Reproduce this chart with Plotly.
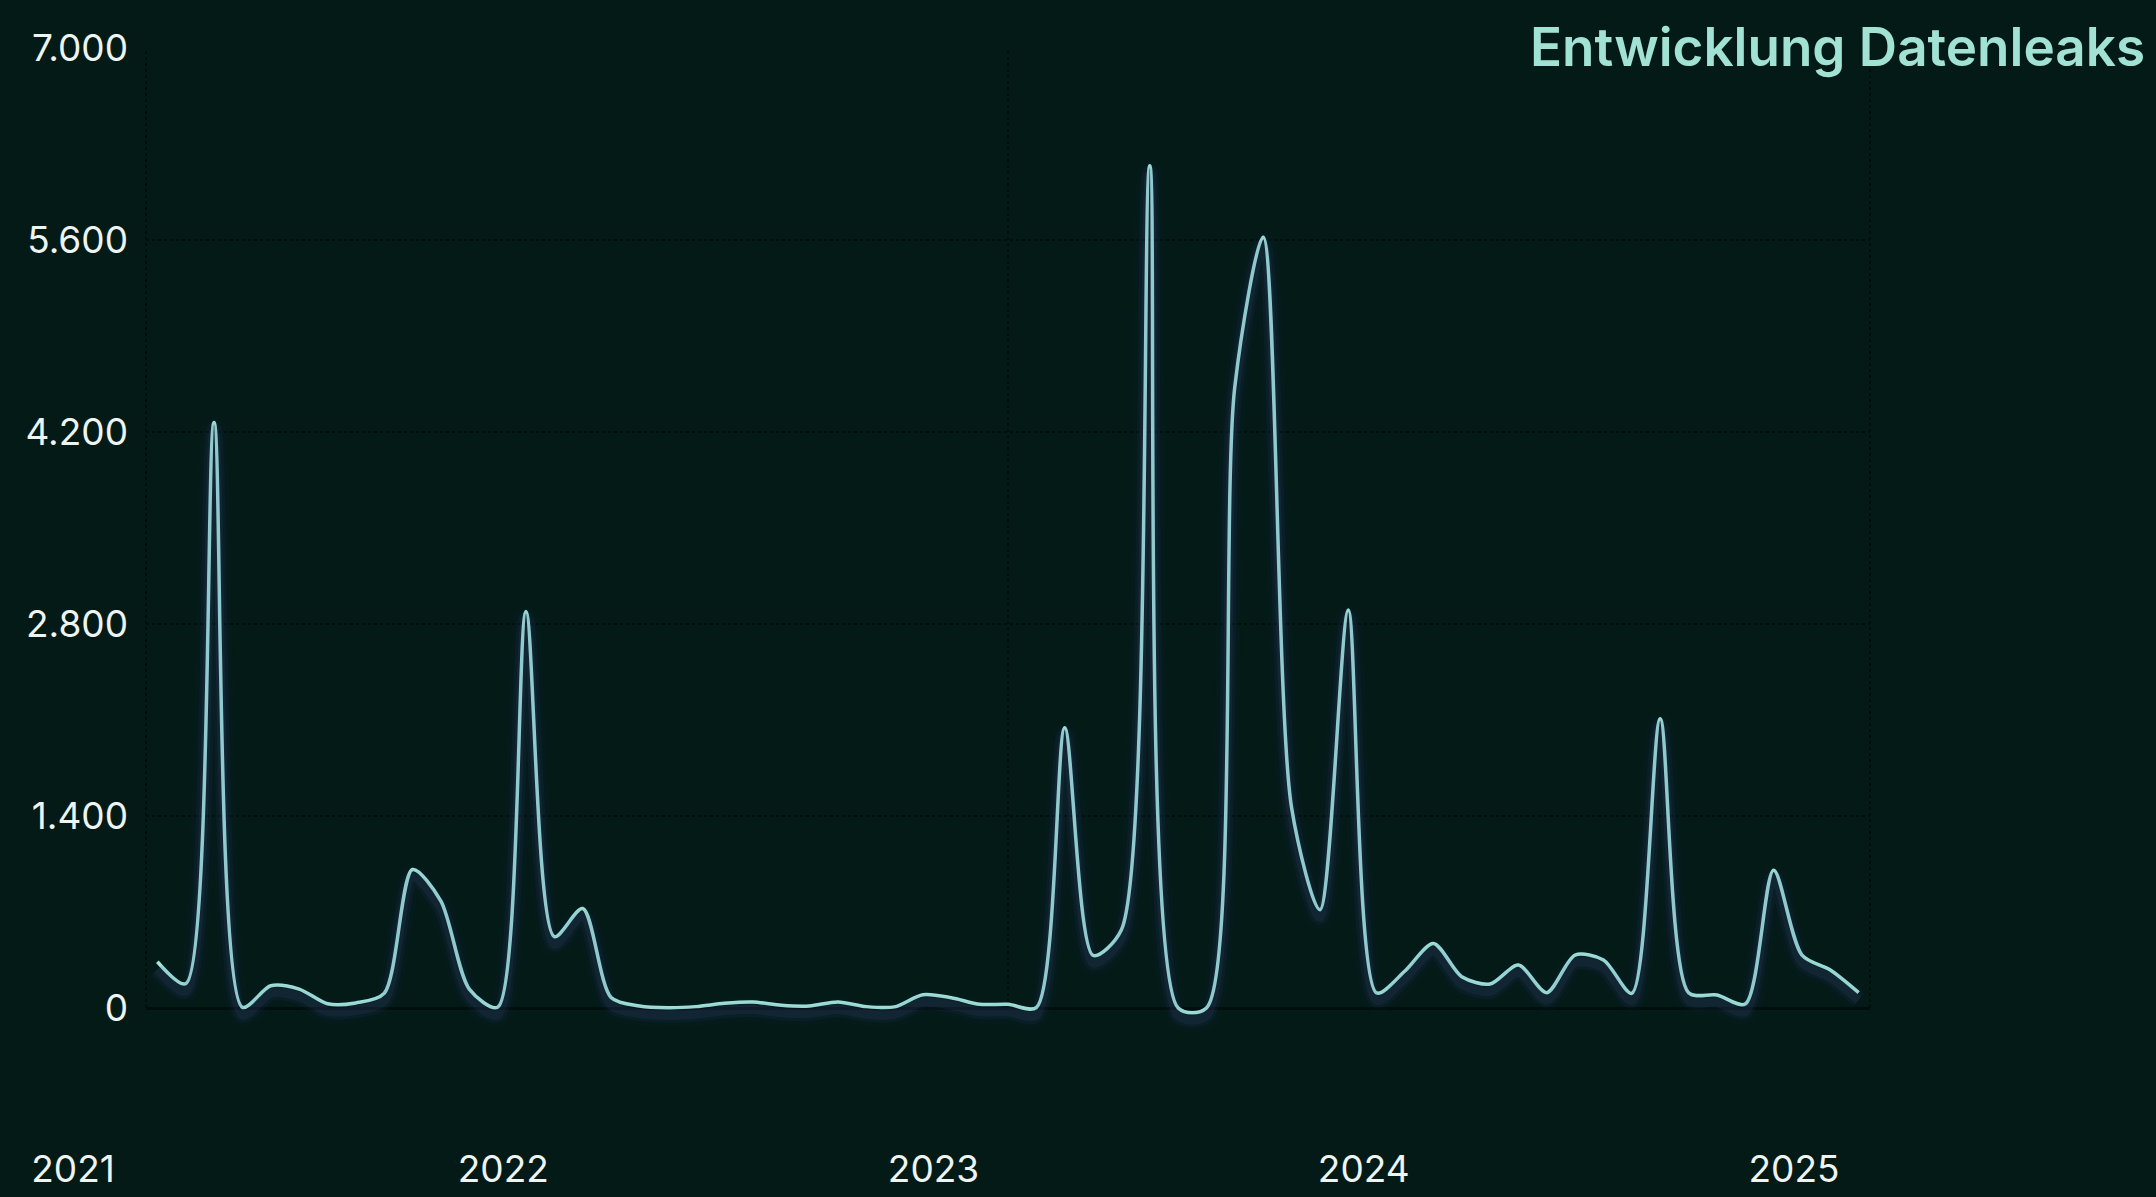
import plotly.graph_objects as go

# ---- data ----
point_index = list(range(61))
leaks = [337, 177, 4269, 5, 162, 138, 31, 37, 107, 1010,
         780, 138, 5, 2892, 520, 725, 77, 15, 2, 10,
         34, 44, 20, 15, 44, 10, 8, 97, 75, 27,
         27, 3, 2043, 384, 570, 6141, 0, 0, 4532, 5620,
         1462, 716, 2902, 110, 270, 471, 228, 175, 313, 112,
         386, 350, 107, 2110, 112, 95, 29, 1005, 386, 277, 112]
year_labels = ["2021", "2022", "2023", "2024", "2025"]
year_values = [2021, 2022, 2023, 2024, 2025]
y_ticks = [0, 1400, 2800, 4200, 5600, 7000]
title_text = "Entwicklung Datenleaks"

# ---- style ----
W, H = 2156, 1197
BG = "#031a16"
LINE = "#a2e7d9"
TITLE = "#a2e2d5"
TICK = "#eef4f2"
GRID = "#010f0c"
FONT = "Inter"
SMOOTH = 0.8

y_range = [-1050, 7000]
x_range = [-0.4, 60.4]
glow_shift = 55  # value units, pushes the glow slightly downward

M_T, M_B = 48, 45
year_axis_raise_px = 9

fig = go.Figure()

# glow layers (drawn on a slightly shifted overlay axis)
for w, c in [(24, "rgba(70,80,160,0.04)"), (15, "rgba(75,88,170,0.07)"), (9, "rgba(85,100,180,0.10)")]:
    fig.add_trace(go.Scatter(
        x=point_index, y=leaks, mode="lines", xaxis="x", yaxis="y2",
        line=dict(color=c, width=w, shape="spline", smoothing=SMOOTH),
        hoverinfo="skip", showlegend=False))

fig.add_trace(go.Scatter(
    x=point_index, y=leaks, mode="lines", xaxis="x", yaxis="y",
    line=dict(color=LINE, width=3.5, shape="spline", smoothing=SMOOTH),
    hoverinfo="skip", showlegend=False))

# invisible carrier for the year-label axis
fig.add_trace(go.Scatter(
    x=year_values, y=[None] * len(year_values), xaxis="x2", yaxis="y3",
    mode="markers", marker=dict(opacity=0), hoverinfo="skip", showlegend=False))

left_px, right_px = 146, 1870
year0_px, year_step_px = 73, 430.25

fig.update_layout(
    width=W, height=H,
    margin=dict(l=0, r=0, t=M_T, b=M_B, autoexpand=False),
    paper_bgcolor=BG, plot_bgcolor="rgba(0,0,0,0)",
    separators=",.",
    font=dict(family=FONT, color=TICK),
    title=dict(text=title_text, x=2145 / W, xanchor="right", xref="container",
               y=1 - 47 / H, yanchor="middle", yref="container",
               font=dict(family=FONT, size=53, color=TITLE, weight=600)),
    xaxis=dict(domain=[left_px / W, right_px / W], range=x_range, anchor="y",
               showgrid=False, zeroline=False, showticklabels=False,
               showline=False, ticks="", fixedrange=True, automargin=False),
    xaxis2=dict(domain=[0, 1], anchor="y3", side="bottom",
                range=[year_values[0] - year0_px / year_step_px,
                       year_values[0] + (W - year0_px) / year_step_px],
                tickvals=year_values, ticktext=year_labels,
                tickfont=dict(family=FONT, size=37, color=TICK),
                showgrid=False, zeroline=False, showline=False, ticks="",
                ticklabelstandoff=1, fixedrange=True, automargin=False),
    yaxis=dict(range=y_range, tickvals=y_ticks, tickformat=",d", anchor="x",
               tickfont=dict(family=FONT, size=37, color=TICK),
               showgrid=True, gridcolor=GRID, griddash="dot", gridwidth=2,
               zeroline=True, zerolinecolor="#010d0a", zerolinewidth=3,
               showline=False, ticks="", ticklabelstandoff=17, fixedrange=True,
               automargin=False),
    yaxis2=dict(range=[y_range[0] + glow_shift, y_range[1] + glow_shift],
                overlaying="y", anchor="x", visible=False, fixedrange=True),
    yaxis3=dict(domain=[year_axis_raise_px / (H - M_T - M_B), 1],
                range=y_range, anchor="x2", visible=False, showgrid=False,
                zeroline=False, fixedrange=True),
)

for fx in (0, 0.5, 1):
    fig.add_shape(type="line", xref="x domain", x0=fx, x1=fx,
                  yref="y", y0=y_ticks[0], y1=y_ticks[-1],
                  line=dict(color=GRID, width=2, dash="dot"), layer="below")

fig.write_html("out.html", config={"displayModeBar": False})
